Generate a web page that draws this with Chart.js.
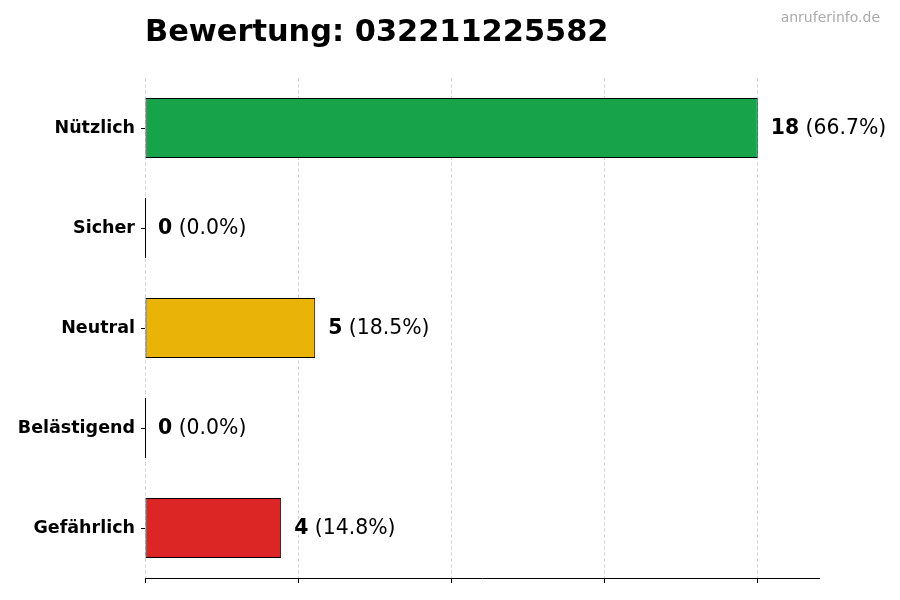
<!DOCTYPE html>
<html lang="de">
<head>
<meta charset="utf-8">
<title>Bewertung: 032211225582</title>
<script src="https://cdn.jsdelivr.net/npm/chart.js@4"></script>
<style>
    html, body { margin: 0; padding: 0; background: #ffffff; }
    #wrap { width: 900px; height: 600px; }
</style>
</head>
<body>
<div id="wrap"><canvas id="ratingChart" width="900" height="600"></canvas></div>
<script>
// Daten der Bewertung
const TITLE = 'Bewertung: 032211225582';
const WATERMARK = 'anruferinfo.de';
const categories = ['Nützlich', 'Sicher', 'Neutral', 'Belästigend', 'Gefährlich'];
const counts = [18, 0, 5, 0, 4];
const percents = ['66.7%', '0.0%', '18.5%', '0.0%', '14.8%'];
const barColors = ['#16a34a', '#3b82f6', '#eab308', '#f97316', '#dc2626'];

const FONT = "'DejaVu Sans', sans-serif";
const maxCount = Math.max(...counts);

// Titel, Wasserzeichen und Werte neben den Balken
const labelPlugin = {
    id: 'labelPlugin',
    afterDatasetsDraw(chart) {
        // Balken mit Wert 0 bekommen nur ihre Randlinie
        const ctx = chart.ctx;
        const meta = chart.getDatasetMeta(0);
        ctx.save();
        ctx.strokeStyle = '#000000';
        ctx.lineWidth = 1;
        meta.data.forEach((bar, i) => {
            if (counts[i] !== 0) return;
            const x = Math.round(bar.base) + 0.5;
            ctx.beginPath();
            ctx.moveTo(x, bar.y - bar.height / 2);
            ctx.lineTo(x, bar.y + bar.height / 2);
            ctx.stroke();
        });
        ctx.restore();
    },
    afterDraw(chart) {
        const ctx = chart.ctx;
        ctx.save();

        ctx.fillStyle = '#000000';
        ctx.font = 'bold 30.4px ' + FONT;
        ctx.textAlign = 'left';
        ctx.textBaseline = 'alphabetic';
        ctx.fillText(TITLE, chart.chartArea.left, 41);

        ctx.fillStyle = '#aaaaaa';
        ctx.font = '14px ' + FONT;
        ctx.textAlign = 'right';
        ctx.fillText(WATERMARK, 880, 22);

        const meta = chart.getDatasetMeta(0);
        const xScale = chart.scales.x;
        ctx.textAlign = 'left';
        ctx.textBaseline = 'middle';
        meta.data.forEach((bar, i) => {
            const x = xScale.getPixelForValue(counts[i]) + 13;
            const y = bar.y + 1;
            ctx.fillStyle = '#000000';
            ctx.font = 'bold 20.4px ' + FONT;
            const num = String(counts[i]);
            ctx.fillText(num, x, y);
            const w = ctx.measureText(num).width;
            ctx.font = '20.4px ' + FONT;
            ctx.fillText(' (' + percents[i] + ')', x + w, y);
        });

        ctx.restore();
    }
};

// Gitterlinie am rechten Rand ausblenden
function hideEdge(color) {
    return (c) => (c.tick && c.tick.value > maxCount ? 'rgba(0,0,0,0)' : color);
}

const ctx = document.getElementById('ratingChart').getContext('2d');
const ratingChart = new Chart(ctx, {
    type: 'bar',
    data: {
        labels: categories,
        datasets: [{
            data: counts,
            backgroundColor: barColors,
            borderColor: '#000000',
            borderWidth: 1,
            borderSkipped: false,
            barPercentage: 0.6,
            categoryPercentage: 1.0
        }]
    },
    options: {
        indexAxis: 'y',
        responsive: false,
        animation: false,
        devicePixelRatio: 1,
        layout: {
            padding: { top: 78, right: 81, bottom: 0, left: 0 }
        },
        plugins: {
            legend: { display: false },
            title: { display: false },
            tooltip: { enabled: false }
        },
        scales: {
            x: {
                min: 0,
                max: 19.8,
                ticks: {
                    display: false,
                    stepSize: 4.5
                },
                grid: {
                    color: hideEdge('#dadada'),
                    lineWidth: 1,
                    drawTicks: true,
                    tickLength: 5,
                    tickColor: hideEdge('#000000'),
                    tickWidth: 1
                },
                border: {
                    display: true,
                    color: '#000000',
                    width: 1,
                    dash: [4, 2]
                },
                afterFit(scale) {
                    scale.height = 22;
                }
            },
            y: {
                ticks: {
                    color: '#000000',
                    padding: 6,
                    font: { family: FONT, size: 17.5, weight: 'bold' }
                },
                grid: {
                    offset: false,
                    drawOnChartArea: false,
                    drawTicks: true,
                    tickLength: 4,
                    tickColor: '#000000',
                    tickWidth: 1
                },
                border: { display: false },
                afterFit(scale) {
                    scale.width = 145;
                }
            }
        }
    },
    plugins: [labelPlugin]
});
</script>
</body>
</html>
